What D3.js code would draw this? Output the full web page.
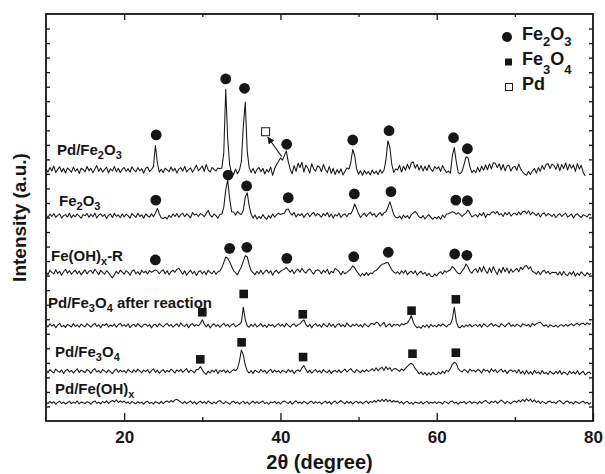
<!DOCTYPE html>
<html>
<head>
<meta charset="utf-8">
<script src="https://cdn.jsdelivr.net/npm/d3@7"></script>
<style>
  body { margin: 0; background: #fff; }
  svg { font-family: "Liberation Sans", Arial, Helvetica, sans-serif; font-weight: bold; }
</style>
</head>
<body>
<svg id="chart"></svg>
<script>
'use strict'

// scans are sampled every 0.25 degree starting at 10 degree (2theta)
const scanStart = 10, scanStep = 0.25

// intensities, relative to each trace's own baseline
const pdFe2O3 = [
  8, -13, 19, -5, 29, -16, 6, 24, -10, 13, -19, 16, 3, -14, 22, -6, 10, -22, 14, 5,
  -11, 26, -3, 13, -18, 8, 32, -8, 16, -13, 5, 21, -19, 10, -5, 27, -10, 14, -16, 6,
  19, -6, 11, -14, 24, 2, -11, 18, -3, 10, -21, 13, 22, -8, 5, 25, 170, 50, -13, 6,
  -16, 14, 3, -10, 22, -5, 13, -19, 8, 18, -6, 26, -11, 5, 16, -14, 10, 35, -3, 11,
  29, -8, 40, 3, -13, 19, 6, -5, 16, 10, 15, 120, 557, 220, 40, -19, -29, 8, -24, 0,
  60, 300, 470, 130, 20, -16, 13, -22, 6, 19, -10, 14, -26, 5, -13, 22, -35, 10, 40, 60,
  85, 70, 100, 133, 60, 8, -24, 32, -8, 48, 19, 56, -13, 35, 16, -19, 45, 10, -6, 29,
  22, -10, 40, 5, -16, 26, -22, 13, -29, 3, -19, 10, -32, -8, 16, 8, 50, 143, 100, 10,
  -28, -4, -34, -2, -26, -8, -32, 2, -24, -6, -30, 4, -20, 0, 70, 202, 160, 40, -16, 8,
  2, 34, -12, 28, 0, 42, 8, 50, 57, 14, 40, 2, 32, -6, 28, -2, 36, 6, -8, 26,
  10, 24, -8, 32, 6, -16, -6, -20, 100, 156, 60, -16, -24, -8, 40, 92, 88, 25, -16, 0,
  -16, 20, -10, 28, 0, 36, 4, 44, 10, 52, 48, 18, 44, 2, 40, -4, 30, 34, -6, 20,
  28, 0, 42, 8, -12, -26, -34, -8, -30, -4, 12, -20, 18, -6, 32, 6, 40, 46, 12, 42,
  32, 6, 44, -2, 40, 12, 50, 2, 42, 14, 36, -8, 46, 8, 34, -16, -40
]
const fe2O3 = [
  7, -10, 14, -3, 17, -9, 5, 15, -14, 3, 10, -7, 19, -12, 8, -5, 14, 0, -15, 10,
  3, 17, -9, 12, -5, 20, -14, 7, 15, -3, 10, -17, 5, 14, -10, 19, -2, 8, -12, 15,
  -7, 12, 3, -14, 17, 5, -10, 20, -3, 8, -15, 14, 2, -8, 15, -5, 20, 53, 14, -14,
  -17, -7, -20, 5, -10, 14, -3, 17, -8, 10, 20, -5, 15, 3, -12, 24, 7, 14, -3, 17,
  10, -5, 17, 40, 7, -8, 14, 3, -14, 10, 14, 60, 180, 248, 120, 30, 28, 8, 32, 18,
  10, 40, 130, 160, 70, 12, -14, 7, -20, -3, -17, 10, -10, -22, 3, -14, 14, -7, 8, 20,
  10, 16, 20, 45, 48, 20, 6, 24, -7, 14, 3, 17, -10, 10, 20, -5, 14, 25, 0, 17,
  7, -8, 17, 3, 24, -7, 14, -14, 10, 0, 20, -10, 7, 15, -5, 17, 15, 40, 83, 50,
  17, -10, 7, 20, -3, 14, 27, 5, 17, -7, 10, 24, 3, 22, 30, 60, 98, 55, 10, -8,
  -14, 0, -20, 7, -10, 3, -17, 10, 20, 32, 14, -7, -14, 3, -20, -3, 10, -10, -22, -7,
  -17, -3, -22, 7, -10, 14, 16, 22, 30, 25, 12, 24, 10, -3, 10, 20, 41, 20, -7, 3,
  10, -7, 17, 3, 24, -10, 14, 7, 24, 30, 16, 32, 8, 17, -3, 24, 7, 27, 0, 14,
  20, 7, 28, 10, 30, 34, 16, 36, 8, 26, 17, 3, 20, -7, 14, 22, 0, 17, 10, -3,
  14, -10, 7, 17, -3, 10, 20, -7, 3, 14, -14, 7, 17, 0, -10, 10, 3, -7, 14, 7
]
const feOHxR = [
  8, -14, 17, 3, -8, 20, -5, 10, -17, 7, 24, -3, 14, -10, 5, 17, -7, 12, -15, 3,
  20, -8, 10, 15, -5, 24, 7, -14, 17, 3, -10, 14, 0, -20, -35, -14, 10, -7, 17, 5,
  -10, 14, 3, -17, 10, 20, -7, 7, -14, 17, 0, 10, -8, 15, 3, 12, 20, 12, -7, 10,
  20, -7, 14, -14, 7, 17, 3, 24, 30, 10, -10, 14, -17, 3, 17, -7, 10, -20, 7, 14,
  -8, 10, -14, 17, 3, -7, 14, -10, 7, 12, 35, 70, 108, 100, 75, 45, 15, 0, -14, 15,
  40, 80, 117, 110, 55, 15, 0, -14, 10, -7, 17, -10, 7, 20, -3, 14, -17, 7, 17, -5,
  10, 18, 25, 36, 20, 4, 20, -7, 14, 24, 3, 30, 10, -3, 17, 27, 7, -10, 14, 20,
  14, -7, 17, 3, 24, -10, 10, 0, 30, 20, 7, -14, 10, -7, 3, 14, 25, 48, 35, 10,
  -6, -24, -4, -20, 2, -18, -2, -6, 10, 16, 30, 45, 58, 62, 68, 71, 45, 20, 5, -4,
  7, -10, 14, -3, 17, -14, 3, 10, -7, 14, -17, 0, 10, -10, 3, -20, -4, -24, -28, -8,
  -22, -3, 7, -10, 14, 3, 14, 20, 43, 30, 10, -4, -8, 12, 30, 60, 40, 10, -4, 20,
  28, 2, 38, 6, 44, 12, -4, 34, 2, 42, 10, -12, 28, 0, 38, 6, 32, -4, 26, 4,
  16, 30, 6, 38, 22, 44, 50, 26, 40, 8, 4, -10, 10, -14, 7, 17, -3, 10, -10, 3,
  2, 4, -16, 6, -18, 8, -12, -20, 4, -14, 8, -24, -2, -18, 6, -10, -22, 2, -14, -4
]
const pdFe3O4After = [
  7, -8, 14, -3, 10, -14, 5, 17, -7, 3, -12, 10, 2, -8, 15, -5, 7, -10, 12, 0,
  -7, 14, 3, -10, 8, 17, -5, 7, -14, 10, 2, 15, -8, 5, -3, 12, -10, 7, 17, -2,
  8, -5, 14, -12, 3, 10, -7, 15, 0, -10, 7, 12, -3, 8, -14, 5, 10, -7, 14, 3,
  -8, 7, 17, -3, 10, -10, 5, 14, -7, 20, 3, -5, 12, -14, 7, 15, -3, 8, 0, 15,
  41, 12, -7, 10, -14, 3, 14, -5, 8, -10, 5, 17, -3, 10, -8, 7, 14, -7, 3, 10,
  25, 128, 40, 0, -10, 10, -5, 14, -8, 3, 15, -7, 7, -12, 10, 0, 8, -10, 5, 14,
  -3, 10, -8, 17, 3, -10, 7, 14, -5, 8, 14, 30, 41, 10, -7, 10, -14, 5, 15, -3,
  8, -10, 14, 3, -7, 17, -3, 10, -12, 7, 15, -5, 8, -8, 20, 3, -7, 10, 0, 14,
  -5, 8, -10, 14, 3, -7, 10, 17, 7, 24, 20, -3, 10, 24, -8, 5, 14, -7, 10, 3,
  10, -3, 14, 7, 16, 20, 40, 71, 25, 0, -14, -7, -17, 3, -10, 7, -14, 10, -5, 3,
  -7, 10, -3, 14, 3, -8, 7, 12, 45, 128, 30, -8, -14, 3, -10, 7, -5, 10, -7, 3,
  8, -5, 10, -10, 14, 3, -7, 7, 17, -3, 10, 0, -8, 14, 5, -7, 10, 20, -3, 7,
  -5, 10, 3, -8, 14, 7, 0, 10, -7, 17, 3, 14, 20, 26, 10, -3, 7, -10, 8, 0,
  -7, 5, -10, 3, 8, -5, 10, -3, 7, 14, 0, 10, 17, 4, 14, 18, 6, 20, 10, 16
]
const pdFe3O4 = [
  10, -7, 14, 0, -10, 17, 3, -5, 12, -14, 7, 15, -3, 8, -10, 5, 19, -7, 10, 2,
  -8, 14, 5, -12, 10, 20, -3, 7, -10, 15, 3, -7, 12, 0, -14, 8, 17, -5, 10, -2,
  7, -10, 15, 3, -7, 12, -3, 17, 5, -8, 10, 0, 14, -10, 7, 19, -5, 10, -12, 3,
  14, -7, 8, -3, 17, 5, -10, 12, 0, 15, -5, 8, 20, -7, 10, 3, -8, 14, 14, 34,
  12, -7, -20, 3, -10, 10, -3, 14, -14, 7, 0, 12, -7, 8, -10, 3, 14, 6, 20, 70,
  149, 115, 45, 5, -10, 7, -14, 10, 0, -7, 14, -3, 8, -12, 5, 15, -7, 10, -3, 7,
  -10, 8, 3, -7, 14, -3, 10, -14, 5, 12, 0, 25, 41, 15, -7, 10, -10, 3, 14, -5,
  7, -10, 14, 0, -7, 10, -14, 3, 8, -5, 12, -8, 5, 17, -3, 10, 20, 3, -7, 14,
  3, -7, 10, -3, 14, 0, 8, 20, 4, 26, 6, 20, 30, 8, 34, 14, 28, 4, 18, 22,
  12, 2, 18, 6, 22, 35, 50, 57, 45, 20, 5, -16, -2, -22, -6, -26, -8, -24, -4, -18,
  -20, -4, -16, 3, -12, 10, 0, 20, 50, 64, 55, 20, 5, -3, 14, 7, -7, 17, 3, 10,
  -3, 14, 7, -10, 17, 3, 10, -7, 20, 0, 14, -8, 7, 17, -3, 10, -14, 5, 12, 0,
  8, -10, 14, -14, 3, -18, 8, -16, 0, -20, 10, -12, -2, -18, 8, -14, -6, -20, 4, -10,
  -16, 2, -14, 8, -20, -2, -10, -22, 4, -14, -2, -16, 6, -20, -8, 2, -22, -10, -2, -16
]
const pdFeOHx = [
  5, -6, 10, -3, 8, -10, 3, 11, -5, 6, -8, 2, 10, -6, 5, -3, 13, -8, 6, 0,
  -5, 8, 3, -10, 6, 13, -3, 5, -8, 10, 0, 14, -5, 8, 16, 6, 20, 2, 14, 3,
  13, -3, 6, -8, 10, 0, -6, 8, -3, 5, -10, 6, 11, -5, 3, -8, 8, 2, -6, 10,
  -5, 6, 13, 3, 16, 6, 20, 24, 14, 5, -3, 10, -6, 5, 13, -5, 8, -10, 3, 11,
  -3, 8, -6, 13, 2, -8, 6, -5, 10, 16, 3, -6, 8, 0, -10, 5, 11, -3, 6, -8,
  3, 10, -5, 6, -10, 2, 11, -3, 8, -6, 5, 13, -5, 3, -10, 6, 0, 10, -6, 5,
  -8, 6, 13, 3, -5, 10, -10, 5, 14, -3, 6, -6, 10, 2, -8, 5, 11, -5, 8, -2,
  6, -8, 3, 11, -3, 8, -10, 5, 13, -5, 6, 16, 3, -6, 10, -3, 8, -8, 5, 10,
  -3, 8, -6, 5, 13, -5, 10, 2, 16, 4, 20, 8, 24, 10, 26, 8, 20, 4, 16, 6,
  13, -3, 8, -8, 5, 10, -6, 3, -10, 6, 0, -5, 8, -8, 3, 10, -6, 5, -3, 8,
  -5, 6, 2, -8, 10, 3, -6, 8, 13, -3, 5, -10, 6, 0, 10, -6, 3, 11, -5, 6,
  3, -6, 10, -3, 8, 16, 5, -5, 10, 2, 13, -3, 6, 19, 8, -5, 10, 3, -6, 8,
  13, 3, 18, 6, 24, 10, 28, 12, 26, 6, 20, 2, 14, -5, 10, 3, -6, 8, 13, 0,
  6, -5, 10, 16, 3, -6, 8, 13, -3, 5, -8, 10, 2, -5, 6, 11, -3, 5, -10, 3
]

const scans = [pdFe2O3, fe2O3, feOHxR, pdFe3O4After, pdFe3O4, pdFeOHx]
// vertical offset (a.u.) of each stacked trace
const offsets = [1725, 1410, 1020, 655, 340, 125]

// trace labels, parts marked 1 are subscripts
const traceLabels = [
  [['Pd/Fe'], ['2', 1], ['O'], ['3', 1]],
  [['Fe'], ['2', 1], ['O'], ['3', 1]],
  [['Fe(OH)'], ['x', 1], ['-R']],
  [['Pd/Fe'], ['3', 1], ['O'], ['4', 1], [' after reaction']],
  [['Pd/Fe'], ['3', 1], ['O'], ['4', 1]],
  [['Pd/Fe(OH)'], ['x', 1]]
]

// phase markers: [2theta, intensity]
const fe2O3Marks = [
  [24.1, 1968], [33.0, 2353], [35.4, 2289], [40.8, 1904], [49.25, 1933], [53.9, 1997], [62.15, 1949], [63.93, 1873],
  [24.05, 1520], [33.3, 1692], [35.67, 1617], [41.0, 1536], [49.46, 1562], [54.15, 1578], [62.45, 1520], [63.93, 1516],
  [24.0, 1108], [33.5, 1188], [35.7, 1195], [40.82, 1119], [49.38, 1130], [53.8, 1161], [62.3, 1149], [63.86, 1140]
]
const fe3O4Marks = [
  [30.0, 748], [35.3, 874], [42.86, 734], [56.78, 759], [62.45, 837],
  [29.75, 424], [35.03, 541], [42.9, 440], [56.9, 463], [62.45, 470]
]
const pdMarks = [[38.1, 1990]]
const pdArrow = [[40.18, 1818], [38.4, 1952]]

const xTicks = [20, 40, 60, 80]
const xMinorTicks = [30, 50, 70]

const width = 605, height = 474
const margin = { top: 14, right: 12, bottom: 53, left: 46 }

const svg = d3.select('#chart').attr('width', width).attr('height', height)

const x = d3.scaleLinear().domain([10, 80]).range([margin.left, width - margin.right])
const y = d3.scaleLinear().domain([0, 2800]).range([height - margin.bottom, margin.top])

const ink = '#161616'

// frame
svg.append('rect')
  .attr('x', x(10)).attr('y', y(2800))
  .attr('width', x(80) - x(10)).attr('height', y(0) - y(2800))
  .attr('fill', 'none').attr('stroke', ink).attr('stroke-width', 1.8)

const noDomain = g => g.select('.domain').remove()
const tickStyle = g => g.selectAll('line').attr('stroke', ink).attr('stroke-width', 1.3)

// bottom axis, ticks inside
svg.append('g')
  .attr('transform', `translate(0,${y(0)})`)
  .call(d3.axisBottom(x).tickValues(xTicks).tickSize(-8).tickPadding(10))
  .call(noDomain).call(tickStyle)
  .call(g => g.selectAll('text').attr('fill', ink).attr('font-size', 17).attr('font-family', null))
svg.append('g')
  .attr('transform', `translate(0,${y(0)})`)
  .call(d3.axisBottom(x).tickValues(xMinorTicks).tickSize(-4).tickFormat(''))
  .call(noDomain).call(tickStyle)

// top axis
svg.append('g')
  .attr('transform', `translate(0,${y(2800)})`)
  .call(d3.axisTop(x).tickValues(xTicks.slice(0, 3)).tickSize(-6).tickFormat(''))
  .call(noDomain).call(tickStyle)
svg.append('g')
  .attr('transform', `translate(0,${y(2800)})`)
  .call(d3.axisTop(x).tickValues(xMinorTicks).tickSize(-3).tickFormat(''))
  .call(noDomain).call(tickStyle)

// left and right, unlabeled
const yTicks = d3.range(100, 2800, 100)
svg.append('g')
  .attr('transform', `translate(${x(10)},0)`)
  .call(d3.axisLeft(y).tickValues(yTicks).tickSize(-4).tickFormat(''))
  .call(noDomain).call(tickStyle)
svg.append('g')
  .attr('transform', `translate(${x(80)},0)`)
  .call(d3.axisRight(y).tickValues(yTicks).tickSize(-4).tickFormat(''))
  .call(noDomain).call(tickStyle)

// traces
const line = d3.line().x(d => x(d[0])).y(d => y(d[1]))
scans.forEach((scan, k) => {
  const pts = scan.map((v, i) => [scanStart + i * scanStep, v + offsets[k]])
  svg.append('path')
    .datum(pts)
    .attr('d', line)
    .attr('fill', 'none')
    .attr('stroke', ink)
    .attr('stroke-width', 1.05)
    .attr('stroke-linejoin', 'round')
})

// text with subscripts
function richText(sel, parts, size, subSize, shift) {
  parts.forEach((p, i) => {
    const sub = p[1] === 1
    const prevSub = i > 0 && parts[i - 1][1] === 1
    const t = sel.append('tspan').text(p[0]).attr('font-size', sub ? subSize : size)
    if (sub && !prevSub) t.attr('dy', shift)
    if (!sub && prevSub) t.attr('dy', -shift)
  })
}

const labelPos = [[57, 155], [59, 206], [51, 261], [48, 308], [55, 357], [55, 394]]
traceLabels.forEach((parts, k) => {
  const t = svg.append('text')
    .attr('x', labelPos[k][0]).attr('y', labelPos[k][1])
    .attr('fill', ink)
  richText(t, parts, 15, 11, 4)
})

// markers
const gMarks = svg.append('g').attr('fill', ink)
gMarks.selectAll('circle')
  .data(fe2O3Marks)
  .join('circle')
  .attr('cx', d => x(d[0])).attr('cy', d => y(d[1])).attr('r', 5.4)
gMarks.selectAll('rect.fe3o4')
  .data(fe3O4Marks)
  .join('rect')
  .attr('class', 'fe3o4')
  .attr('x', d => x(d[0]) - 4.3).attr('y', d => y(d[1]) - 4.3)
  .attr('width', 8.6).attr('height', 8.6)
svg.selectAll('rect.pd')
  .data(pdMarks)
  .join('rect')
  .attr('class', 'pd')
  .attr('x', d => x(d[0]) - 4).attr('y', d => y(d[1]) - 4)
  .attr('width', 8).attr('height', 8)
  .attr('fill', '#fff').attr('stroke', ink).attr('stroke-width', 1)

// arrow pointing at the Pd marker
svg.append('defs').append('marker')
  .attr('id', 'head')
  .attr('viewBox', '0 0 10 10')
  .attr('refX', 9).attr('refY', 5)
  .attr('markerWidth', 7).attr('markerHeight', 7)
  .attr('markerUnits', 'userSpaceOnUse')
  .attr('orient', 'auto')
  .append('path').attr('d', 'M0,0L10,5L0,10Z').attr('fill', ink)
svg.append('line')
  .attr('x1', x(pdArrow[0][0])).attr('y1', y(pdArrow[0][1]))
  .attr('x2', x(pdArrow[1][0])).attr('y2', y(pdArrow[1][1]))
  .attr('stroke', ink).attr('stroke-width', 1.2)
  .attr('marker-end', 'url(#head)')

// legend
const legend = svg.append('g').attr('fill', ink)
const legendItems = [
  { shape: 'circle', parts: [['Fe'], ['2', 1], ['O'], ['3', 1]], shift: 6 },
  { shape: 'square', parts: [['Fe'], ['3', 1], ['O'], ['4', 1]], shift: 9 },
  { shape: 'open', parts: [['Pd']], shift: 0 }
]
legendItems.forEach((it, i) => {
  const cy = 37 + i * 25
  if (it.shape === 'circle') legend.append('circle').attr('cx', 507).attr('cy', cy).attr('r', 5)
  if (it.shape === 'square') legend.append('rect').attr('x', 505).attr('y', cy - 3.5).attr('width', 7).attr('height', 7)
  if (it.shape === 'open') legend.append('rect').attr('x', 505.5).attr('y', cy - 3.5).attr('width', 7).attr('height', 7)
    .attr('fill', '#fff').attr('stroke', ink).attr('stroke-width', 1)
  const t = legend.append('text').attr('x', 522).attr('y', cy + 3)
  richText(t, it.parts, 18, 13, it.shift)
})

// axis titles
svg.append('text')
  .attr('x', (x(10) + x(80)) / 2).attr('y', 469)
  .attr('text-anchor', 'middle').attr('font-size', 20).attr('fill', ink)
  .text('2θ (degree)')
svg.append('text')
  .attr('transform', `translate(26,${(y(0) + y(2800)) / 2}) rotate(-90)`)
  .attr('text-anchor', 'middle').attr('font-size', 19).attr('fill', ink)
  .text('Intensity (a.u.)')
</script>
</body>
</html>
